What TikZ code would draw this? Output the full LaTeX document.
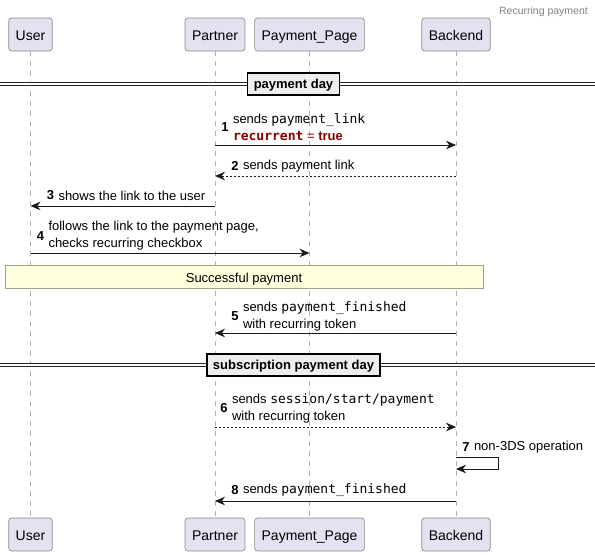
\documentclass[tikz,border=0pt]{standalone}
\usepackage{fontspec}
\setmainfont{Liberation Sans}
\setmonofont{DejaVu Sans Mono}
\usepackage{xcolor}
\usetikzlibrary{positioning,arrows.meta}

\definecolor{partfill}{HTML}{E2E2F0}
\definecolor{partline}{HTML}{8A8A8A}
\definecolor{divfill}{HTML}{EEEEEE}
\definecolor{notefill}{HTML}{FEFFDD}
\definecolor{noteline}{HTML}{A2A28A}
\definecolor{darkred}{HTML}{8B0000}

\begin{document}
\begin{tikzpicture}[
    x=1pt, y=-1pt,
    node distance=4pt,
    part/.style={rectangle, draw=partline, line width=0.7pt, rounded corners=3pt, fill=partfill, minimum height=33pt, inner xsep=7pt, text height=12pt, text depth=1pt, font=\fontsize{14}{16}\selectfont},
    lifeline/.style={draw=black!30, line width=0.8pt, dash pattern=on 5pt off 5pt},
    sep/.style={draw=black!85, line width=0.9pt, double=white, double distance=2.4pt},
    divider/.style={rectangle, draw=black, line width=1.4pt, fill=divfill, minimum height=22pt, inner xsep=6pt, text height=10.5pt, text depth=1.5pt, font=\fontsize{13}{15}\selectfont\bfseries},
    msg/.style={-{Stealth[length=10pt,width=8.5pt]}, draw=black!90, line width=0.8pt},
    reply/.style={msg, dash pattern=on 2pt off 2pt},
    num/.style={inner sep=0pt, font=\fontsize{13}{17}\selectfont\bfseries},
    lbl/.style={inner sep=0pt, align=left, font=\fontsize{13}{17}\selectfont},
    notebox/.style={rectangle, draw=noteline, line width=0.8pt, fill=notefill, minimum width=478pt, minimum height=23pt, text height=11.5pt, text depth=0.5pt, font=\fontsize{13}{15}\selectfont},
    title/.style={inner sep=0pt, text=black!50, font=\fontsize{10.5}{12}\selectfont},
]
\useasboundingbox (0,0) rectangle (595,555);

% Participants
\node[part] (userT) at (30.5,34.5) {User};
\node[part] (partnerT) at (215,34.5) {Partner};
\node[part] (pageT) at (309.5,34.5) {Payment\_Page};
\node[part] (backT) at (456,34.5) {Backend};

\node[part] (userB) at (30.5,534.5) {User};
\node[part] (partnerB) at (215,534.5) {Partner};
\node[part] (pageB) at (309.5,534.5) {Payment\_Page};
\node[part] (backB) at (456,534.5) {Backend};

\node[title, anchor=east] (title) at (588,12) {Recurring payment};

% Lifelines
\draw[lifeline] (userT) -- (userB);
\draw[lifeline] (partnerT) -- (partnerB);
\draw[lifeline] (pageT) -- (pageB);
\draw[lifeline] (backT) -- (backB);

% Divider: payment day
\coordinate (d1w) at (0,84);
\coordinate (d1e) at (595,84);
\draw[sep] (d1w) -- (d1e);
\node[divider] (day1) at (293.5,84) {payment day};

% 1
\coordinate (m1) at (0,145);
\draw[msg] (partnerT |- m1) -- (backT |- m1);
\node[num] (n1) at (225,127) {1};
\node[lbl, right=of n1] (t1) {sends \texttt{payment\_link}\\\textcolor{darkred}{\textbf{\texttt{recurrent}} = \textbf{true}}};

% 2
\coordinate (m2) at (0,176);
\draw[reply] (backT |- m2) -- (partnerT |- m2);
\node[num] (n2) at (235,166) {2};
\node[lbl, right=of n2] (t2) {sends payment link};

% 3
\coordinate (m3) at (0,206);
\draw[msg] (partnerT |- m3) -- (userT |- m3);
\node[num] (n3) at (50.5,195.5) {3};
\node[lbl, right=of n3] (t3) {shows the link to the user};

% 4
\coordinate (m4) at (0,253);
\draw[msg] (userT |- m4) -- (pageT |- m4);
\node[num] (n4) at (40.5,236) {4};
\node[lbl, right=of n4] (t4) {follows the link to the payment page,\\checks recurring checkbox};

% Note
\node[notebox] (note) at (244,277) {Successful payment};

% 5
\coordinate (m5) at (0,333);
\draw[msg] (backT |- m5) -- (partnerT |- m5);
\node[num] (n5) at (235,316) {5};
\node[lbl, right=of n5] (t5) {sends \texttt{payment\_finished}\\with recurring token};

% Divider: subscription payment day
\coordinate (d2w) at (0,365);
\coordinate (d2e) at (595,365);
\draw[sep] (d2w) -- (d2e);
\node[divider] (day2) at (293.5,365) {subscription payment day};

% 6
\coordinate (m6) at (0,427);
\draw[reply] (partnerT |- m6) -- (backT |- m6);
\node[num] (n6) at (224,408) {6};
\node[lbl, right=of n6] (t6) {sends \texttt{session/start/payment}\\with recurring token};

% 7
\coordinate (m7) at (0,457);
\draw[msg] (backT |- m7) -- ++(42,0) -- ++(0,12) -- ++(-42,0);
\node[num] (n7) at (466,447.5) {7};
\node[lbl, right=of n7] (t7) {non-3DS operation};

% 8
\coordinate (m8) at (0,501);
\draw[msg] (backT |- m8) -- (partnerT |- m8);
\node[num] (n8) at (235,490) {8};
\node[lbl, right=of n8] (t8) {sends \texttt{payment\_finished}};

\end{tikzpicture}
\end{document}
